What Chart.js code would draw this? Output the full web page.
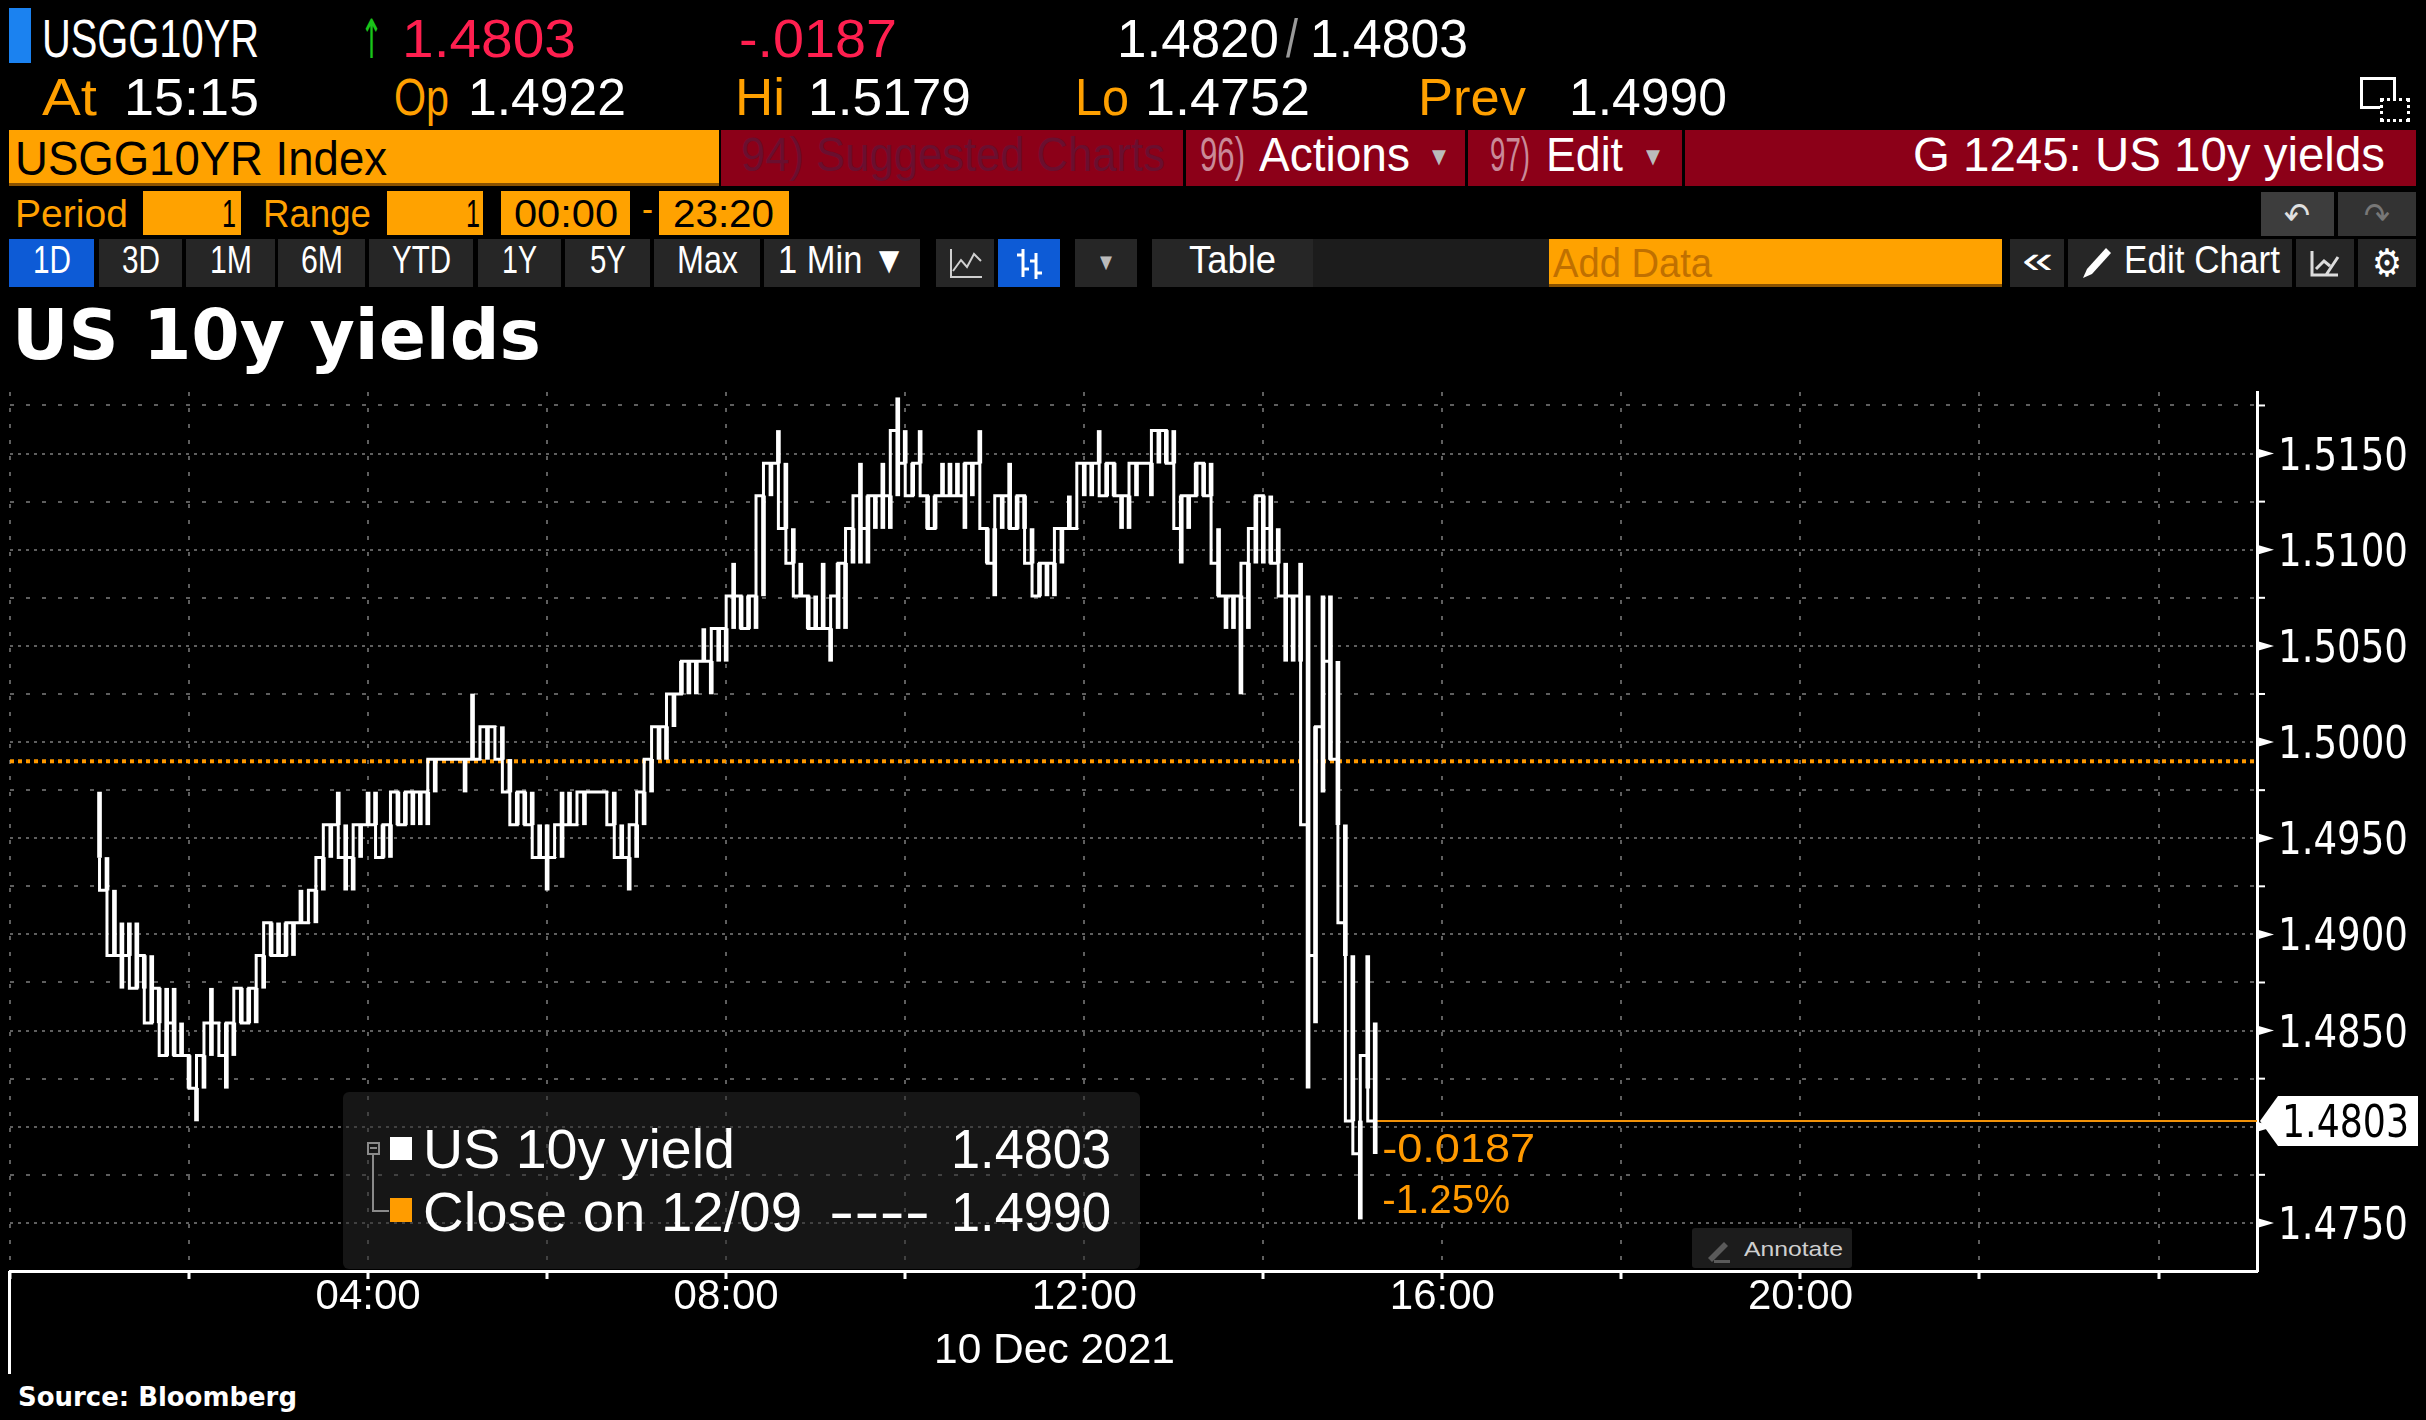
<!DOCTYPE html>
<html>
<head>
<meta charset="utf-8">
<title>US 10y yields</title>
<script src="https://cdn.jsdelivr.net/npm/chart.js@4.4.1/dist/chart.umd.min.js"></script>
<style>
  html, body { margin: 0; padding: 0; background: #000; }
  #page { position: relative; width: 2426px; height: 1420px; overflow: hidden; background: #000; }
  #chartWrap { position: absolute; left: 0; top: 380px; width: 2426px; height: 1000px; }
  .bx { position: absolute; box-sizing: border-box; }
  .t { position: absolute; white-space: nowrap; line-height: 1; transform-origin: 0 0; }
</style>
</head>
<body>
<div id="page">
  <div id="chartWrap"><canvas id="chart" width="2426" height="1000"></canvas></div>
</div>
<script>
// 5-minute buckets (yield, %)
const times = [
  '01:00','01:05','01:10','01:15','01:20','01:25','01:30','01:35','01:40','01:45','01:50','01:55',
  '02:00','02:05','02:10','02:15','02:20','02:25','02:30','02:35','02:40','02:45','02:50','02:55',
  '03:00','03:05','03:10','03:15','03:20','03:25','03:30','03:35','03:40','03:45','03:50','03:55',
  '04:00','04:05','04:10','04:15','04:20','04:25','04:30','04:35','04:40','04:45','04:50','04:55',
  '05:00','05:05','05:10','05:15','05:20','05:25','05:30','05:35','05:40','05:45','05:50','05:55',
  '06:00','06:05','06:10','06:15','06:20','06:25','06:30','06:35','06:40','06:45','06:50','06:55',
  '07:00','07:05','07:10','07:15','07:20','07:25','07:30','07:35','07:40','07:45','07:50','07:55',
  '08:00','08:05','08:10','08:15','08:20','08:25','08:30','08:35','08:40','08:45','08:50','08:55',
  '09:00','09:05','09:10','09:15','09:20','09:25','09:30','09:35','09:40','09:45','09:50','09:55',
  '10:00','10:05','10:10','10:15','10:20','10:25','10:30','10:35','10:40','10:45','10:50','10:55',
  '11:00','11:05','11:10','11:15','11:20','11:25','11:30','11:35','11:40','11:45','11:50','11:55',
  '12:00','12:05','12:10','12:15','12:20','12:25','12:30','12:35','12:40','12:45','12:50','12:55',
  '13:00','13:05','13:10','13:15','13:20','13:25','13:30','13:35','13:40','13:45','13:50','13:55',
  '14:00','14:05','14:10','14:15','14:20','14:25','14:30','14:35','14:40','14:45','14:50','14:55',
  '15:00','15:05','15:10','15:15'
];
const lows = [
  1.4940,1.4923,1.4889,1.4872,1.4889,1.4872,1.4872,1.4854,1.4854,1.4837,1.4837,1.4837,
  1.4820,1.4803,1.4820,1.4837,1.4854,1.4820,1.4837,1.4854,1.4854,1.4854,1.4872,1.4889,
  1.4889,1.4889,1.4889,1.4906,1.4906,1.4906,1.4923,1.4940,1.4957,1.4923,1.4923,1.4940,
  1.4957,1.4957,1.4940,1.4940,1.4957,1.4957,1.4957,1.4957,1.4957,1.4974,1.4991,1.4991,
  1.4991,1.4974,1.4991,1.4991,1.4991,1.5008,1.4991,1.4974,1.4957,1.4957,1.4957,1.4940,
  1.4923,1.4940,1.4940,1.4957,1.4957,1.4957,1.4974,1.4974,1.4974,1.4957,1.4940,1.4923,
  1.4940,1.4957,1.4974,1.4991,1.4991,1.5008,1.5025,1.5025,1.5025,1.5042,1.5025,1.5042,
  1.5042,1.5059,1.5059,1.5059,1.5059,1.5076,1.5128,1.5145,1.5111,1.5093,1.5076,1.5059,
  1.5059,1.5059,1.5042,1.5059,1.5059,1.5093,1.5093,1.5093,1.5111,1.5111,1.5111,1.5128,
  1.5145,1.5128,1.5145,1.5111,1.5111,1.5128,1.5128,1.5128,1.5111,1.5128,1.5145,1.5093,
  1.5076,1.5111,1.5111,1.5111,1.5111,1.5093,1.5076,1.5076,1.5076,1.5093,1.5111,1.5111,
  1.5128,1.5128,1.5145,1.5128,1.5128,1.5111,1.5111,1.5128,1.5145,1.5128,1.5145,1.5145,
  1.5145,1.5093,1.5111,1.5128,1.5128,1.5128,1.5076,1.5059,1.5059,1.5025,1.5059,1.5093,
  1.5093,1.5093,1.5093,1.5042,1.5042,1.5042,1.4820,1.4854,1.4974,1.4991,1.4957,1.4889,
  1.4803,1.4752,1.4820,1.4786
];
const highs = [
  1.4974,1.4940,1.4923,1.4906,1.4906,1.4906,1.4889,1.4889,1.4872,1.4872,1.4872,1.4854,
  1.4837,1.4820,1.4837,1.4872,1.4854,1.4854,1.4854,1.4872,1.4872,1.4872,1.4889,1.4906,
  1.4906,1.4906,1.4906,1.4923,1.4906,1.4923,1.4940,1.4957,1.4974,1.4957,1.4940,1.4957,
  1.4974,1.4974,1.4957,1.4957,1.4974,1.4974,1.4974,1.4974,1.4974,1.4991,1.4991,1.4991,
  1.4991,1.4991,1.5025,1.4991,1.5008,1.5008,1.5008,1.4991,1.4974,1.4974,1.4974,1.4957,
  1.4957,1.4940,1.4974,1.4974,1.4957,1.4974,1.4974,1.4974,1.4974,1.4974,1.4957,1.4940,
  1.4957,1.4974,1.4991,1.5008,1.5008,1.5025,1.5042,1.5042,1.5042,1.5059,1.5042,1.5059,
  1.5059,1.5093,1.5076,1.5076,1.5076,1.5128,1.5145,1.5162,1.5145,1.5111,1.5093,1.5076,
  1.5076,1.5093,1.5059,1.5093,1.5093,1.5111,1.5145,1.5128,1.5128,1.5145,1.5128,1.5179,
  1.5162,1.5145,1.5162,1.5128,1.5128,1.5145,1.5145,1.5145,1.5145,1.5145,1.5162,1.5111,
  1.5111,1.5128,1.5145,1.5128,1.5128,1.5111,1.5093,1.5093,1.5093,1.5111,1.5128,1.5111,
  1.5145,1.5145,1.5162,1.5145,1.5145,1.5128,1.5128,1.5145,1.5145,1.5145,1.5162,1.5162,
  1.5162,1.5128,1.5128,1.5145,1.5145,1.5145,1.5111,1.5076,1.5076,1.5076,1.5093,1.5128,
  1.5128,1.5128,1.5111,1.5093,1.5076,1.5093,1.5076,1.5008,1.5076,1.5076,1.5042,1.4957,
  1.4889,1.4803,1.4889,1.4854
];
const closes = [
  1.4940,1.4923,1.4889,1.4889,1.4889,1.4872,1.4889,1.4854,1.4872,1.4837,1.4854,1.4837,
  1.4837,1.4820,1.4837,1.4854,1.4854,1.4837,1.4854,1.4872,1.4854,1.4872,1.4889,1.4906,
  1.4889,1.4889,1.4906,1.4906,1.4906,1.4923,1.4940,1.4957,1.4957,1.4940,1.4940,1.4957,
  1.4957,1.4957,1.4940,1.4957,1.4974,1.4957,1.4974,1.4974,1.4974,1.4991,1.4991,1.4991,
  1.4991,1.4991,1.4991,1.4991,1.5008,1.5008,1.4991,1.4974,1.4957,1.4974,1.4957,1.4940,
  1.4940,1.4940,1.4957,1.4957,1.4957,1.4974,1.4974,1.4974,1.4974,1.4957,1.4940,1.4940,
  1.4957,1.4974,1.4991,1.5008,1.5008,1.5025,1.5025,1.5042,1.5042,1.5042,1.5042,1.5059,
  1.5059,1.5076,1.5076,1.5059,1.5076,1.5128,1.5145,1.5145,1.5111,1.5093,1.5076,1.5076,
  1.5059,1.5059,1.5059,1.5076,1.5093,1.5111,1.5128,1.5111,1.5128,1.5128,1.5128,1.5162,
  1.5145,1.5128,1.5145,1.5128,1.5111,1.5128,1.5128,1.5128,1.5128,1.5145,1.5145,1.5111,
  1.5093,1.5128,1.5128,1.5111,1.5128,1.5093,1.5076,1.5093,1.5093,1.5111,1.5111,1.5111,
  1.5145,1.5145,1.5145,1.5128,1.5145,1.5128,1.5128,1.5145,1.5145,1.5145,1.5162,1.5162,
  1.5145,1.5111,1.5128,1.5128,1.5145,1.5128,1.5093,1.5076,1.5076,1.5076,1.5093,1.5111,
  1.5128,1.5111,1.5093,1.5076,1.5076,1.5076,1.4957,1.4889,1.5008,1.5042,1.4991,1.4906,
  1.4803,1.4786,1.4837,1.4803
];
const prevClose = 1.4990;
const seriesLabel = 'US 10y yield';
const prevLabel = 'Close on 12/09';

const yTickValues = [1.4750,1.4775,1.4800,1.4825,1.4850,1.4875,1.4900,1.4925,1.4950,1.4975,
                     1.5000,1.5025,1.5050,1.5075,1.5100,1.5125,1.5150,1.5175];
const yLabelValues = [1.4750,1.4800,1.4850,1.4900,1.4950,1.5000,1.5050,1.5100,1.5150];
const xTickHours = [0,2,4,6,8,10,12,14,16,18,20,22,24];
const xLabelHours = [4,8,12,16,20];
const xLabelText = ['04:00','08:00','12:00','16:00','20:00'];

const X_MAX = 25.1, Y_MIN = 1.4725, Y_MAX = 1.5182;
const NARROW = '"Liberation Sans", Arial, sans-serif';
const WIDE = '"DejaVu Sans", Verdana, sans-serif';

const toHours = t => { const [h, m] = t.split(':').map(Number); return h + m / 60; };
const hours = times.map(toHours);
const lastPrice = closes[closes.length - 1];
const lastHour = hours[hours.length - 1];
const isMajor = v => yLabelValues.some(l => Math.abs(l - v) < 1e-6);

// ---- page furniture (terminal header, legend, notes) ----
const page = document.getElementById('page');

function box(x, y, w, h, bg, css) {
  const d = document.createElement('div');
  d.className = 'bx';
  d.style.cssText = `left:${x}px;top:${y}px;width:${w}px;height:${h}px;background:${bg};` + (css || '');
  page.appendChild(d);
  return d;
}

// text placed by baseline, squeezed to the width it has in the picture
function txt(x, base, w, size, color, s, o = {}) {
  const d = document.createElement('div');
  d.className = 't';
  d.textContent = s;
  d.style.fontSize = size + 'px';
  d.style.color = color;
  d.style.fontFamily = o.font || NARROW;
  if (o.bold) d.style.fontWeight = 'bold';
  d.style.top = (base - 0.846 * size) + 'px';
  d.style.left = x + 'px';
  d.dataset.w = w; d.dataset.x = x; d.dataset.a = o.align || 'l';
  page.appendChild(d);
  return d;
}

function fitText() {
  document.querySelectorAll('.t').forEach(el => {
    el.style.transform = 'none';
    const nat = el.getBoundingClientRect().width;
    const w = +el.dataset.w, x = +el.dataset.x, a = el.dataset.a;
    el.style.left = (a === 'r' ? x - w : a === 'c' ? x - w / 2 : x) + 'px';
    if (nat > 0) el.style.transform = `scaleX(${(w / nat).toFixed(4)})`;
  });
}

const ORANGE = '#ffa000', BOX = '#ffa200', RED = '#8c0018';

// row 1
box(9, 8, 22, 55, '#1b82f0');
txt(42, 57, 217, 54, '#fff', 'USGG10YR');
txt(360, 59, 23, 54, '#19c419', '↑', {font: WIDE});
txt(402, 57, 174, 54, '#ff1f4f', '1.4803');
txt(739, 57, 158, 54, '#ff1f4f', '-.0187');
txt(1117, 57, 162, 54, '#fff', '1.4820');
txt(1286, 57, 12, 54, '#9a9a9a', '/');
txt(1310, 57, 158, 54, '#fff', '1.4803');
// row 2
txt(42, 115, 55, 52, ORANGE, 'At');
txt(124, 115, 135, 52, '#fff', '15:15');
txt(394, 115, 55, 52, ORANGE, 'Op');
txt(468, 115, 158, 52, '#fff', '1.4922');
txt(735, 115, 50, 52, ORANGE, 'Hi');
txt(808, 115, 163, 52, '#fff', '1.5179');
txt(1075, 115, 54, 52, ORANGE, 'Lo');
txt(1145, 115, 165, 52, '#fff', '1.4752');
txt(1418, 115, 108, 52, ORANGE, 'Prev');
txt(1569, 115, 158, 52, '#fff', '1.4990');
box(2360, 77, 36, 32, 'transparent', 'border:3px solid #fff;');
box(2380, 98, 30, 24, '#000', 'border:3px dotted #fff;');
// row 3
box(9, 130, 710, 56, BOX, 'border-bottom:3px solid #8a5200;');
txt(15, 175, 372, 49, '#000', 'USGG10YR Index');
box(721, 130, 462, 56, RED);
txt(741, 172, 424, 48, '#6a0f2f', '94) Suggested Charts');
box(1186, 130, 279, 56, RED);
txt(1200, 172, 45, 48, '#c98a98', '96)');
txt(1259, 172, 151, 48, '#fff', 'Actions');
txt(1432, 163, 14, 20, '#bbb', '▼', {font: WIDE});
box(1468, 130, 214, 56, RED);
txt(1490, 172, 40, 48, '#c98a98', '97)');
txt(1546, 172, 77, 48, '#fff', 'Edit');
txt(1646, 163, 14, 20, '#bbb', '▼', {font: WIDE});
box(1685, 130, 731, 56, RED);
txt(2385, 172, 472, 48, '#fff', 'G 1245: US 10y yields', {align: 'r'});
// row 4
txt(15, 227, 113, 38, ORANGE, 'Period');
box(143, 191, 98, 44, BOX);
txt(236, 227, 14, 38, '#000', '1', {align: 'r'});
txt(263, 227, 108, 38, ORANGE, 'Range');
box(387, 191, 96, 44, BOX);
txt(480, 227, 14, 38, '#000', '1', {align: 'r'});
box(501, 191, 129, 44, BOX);
txt(514, 227, 104, 38, '#000', '00:00');
txt(642, 222, 11, 38, ORANGE, '-');
box(659, 191, 130, 44, BOX);
txt(673, 227, 101, 38, '#000', '23:20');
box(2261, 192, 73, 44, '#3d3d3d');
txt(2297, 228, 26, 36, '#e0e0e0', '↶', {font: WIDE, align: 'c'});
box(2338, 192, 78, 44, '#333');
txt(2377, 228, 26, 36, '#777', '↷', {font: WIDE, align: 'c'});
// row 5: toolbar
function btn(x0, x1, label, w, bg) {
  box(x0, 239, x1 - x0, 48, bg || '#262626');
  if (label) txt((x0 + x1) / 2, 273, w, 38, '#fff', label, {align: 'c'});
}
btn(9, 94, '1D', 38, '#0d5bd6');
btn(99, 182, '3D', 38);
btn(186, 275, '1M', 42);
btn(278, 365, '6M', 42);
btn(369, 473, 'YTD', 59);
btn(478, 561, '1Y', 35);
btn(565, 650, '5Y', 36);
btn(654, 760, 'Max', 61);
btn(764, 920, '1 Min ▼', 128);
btn(936, 994, '', 0);
box(936, 239, 58, 48, 'transparent').innerHTML =
  '<svg width="58" height="48"><path d="M15 10 V38 H46" stroke="#cfcfcf" stroke-width="2" fill="none"/>' +
  '<polyline points="17,32 25,21 31,28 38,15 45,22" stroke="#cfcfcf" stroke-width="2" fill="none"/></svg>';
btn(998, 1060, '', 0, '#0d5bd6');
box(998, 239, 62, 48, 'transparent').innerHTML =
  '<svg width="62" height="48"><path d="M25 10 V38 M19 16 H25 M25 30 H31 M38 14 V40 M32 22 H38 M38 34 H44" stroke="#fff" stroke-width="3" fill="none"/></svg>';
btn(1075, 1137, '', 0);
txt(1106, 268, 12, 18, '#bbb', '▼', {font: WIDE, align: 'c'});
btn(1152, 1313, 'Table', 87);
box(1313, 239, 236, 48, '#1c1c1c');
box(1549, 239, 453, 48, BOX, 'border-bottom:3px solid #8a5200;');
txt(1553, 277, 159, 40, '#c07000', 'Add Data');
btn(2010, 2064, '«', 31);
btn(2068, 2292, '', 0);
box(2076, 242, 40, 42, 'transparent').innerHTML =
  '<svg width="40" height="42"><path d="M7 36 L11 27 L30 6 L35 11 L16 32 Z" fill="#fff"/></svg>';
txt(2124, 273, 156, 38, '#fff', 'Edit Chart');
btn(2296, 2354, '', 0);
box(2296, 239, 58, 48, 'transparent').innerHTML =
  '<svg width="58" height="48"><path d="M16 12 V36 H42 M20 30 L28 22 L34 27 M30 36 L42 18" stroke="#ddd" stroke-width="3" fill="none"/></svg>';
btn(2358, 2416, '', 0);
txt(2387, 276, 30, 38, '#fff', '⚙', {font: WIDE, align: 'c'});

// title
txt(12, 359, 529, 69, '#fff', 'US 10y yields', {font: WIDE, bold: true});

// legend
box(343, 1092, 797, 177, 'rgba(40,40,40,0.55)', 'border-radius:6px;');
box(367, 1142, 13, 13, 'transparent', 'border:2px solid #8a8a8a;');
box(370, 1147, 7, 2, '#8a8a8a');
box(372, 1155, 2, 57, '#8a8a8a');
box(372, 1210, 17, 2, '#8a8a8a');
box(390, 1137, 22, 23, '#fff');
box(390, 1198, 22, 24, '#ff9c00');
txt(423, 1168, 312, 56, '#fff', seriesLabel);
txt(1111, 1168, 160, 56, '#fff', lastPrice.toFixed(4), {align: 'r'});
txt(423, 1231, 379, 56, '#fff', prevLabel);
txt(829, 1231, 101, 56, '#fff', '----');
txt(1111, 1231, 160, 56, '#fff', prevClose.toFixed(4), {align: 'r'});

// annotate button, date line, source
box(1692, 1228, 160, 40, '#1c1c1c', 'border-radius:3px;');
box(1700, 1230, 40, 36, 'transparent').innerHTML =
  '<svg width="40" height="36"><path d="M8 28 L24 12 L28 16 L12 32 Z" fill="#5a5a5a"/><rect x="14" y="30" width="16" height="3" fill="#5a5a5a"/></svg>';
txt(1744, 1256, 99, 21, '#cfcfcf', 'Annotate');
box(8, 1271, 3, 103, '#fff');
txt(1054, 1363, 241, 43, '#fff', '10 Dec 2021', {align: 'c'});
txt(18, 1406, 279, 27, '#fff', 'Source: Bloomberg', {font: WIDE, bold: true});

fitText();

// ---- chart ----
function scaledText(ctx, s, x, base, w, font, color) {
  ctx.save();
  ctx.font = font;
  ctx.fillStyle = color;
  ctx.textBaseline = 'alphabetic';
  const nat = ctx.measureText(s).width;
  ctx.translate(x, base);
  ctx.scale(w / nat, 1);
  ctx.fillText(s, 0, 0);
  ctx.restore();
}

const axisExtras = {
  id: 'axisExtras',
  afterDraw(chart) {
    const {ctx, scales: {x, y}} = chart;
    const ax = y.left;
    ctx.save();
    ctx.fillStyle = '#fff';
    yTickValues.forEach(v => {
      const py = y.getPixelForValue(v);
      if (isMajor(v)) {
        ctx.beginPath();
        ctx.moveTo(ax, py - 5);
        ctx.lineTo(ax + 17, py);
        ctx.lineTo(ax, py + 5);
        ctx.closePath();
        ctx.fill();
        scaledText(ctx, v.toFixed(4), ax + 21, py + 16, 130, '44px ' + WIDE, '#fff');
      } else {
        ctx.fillRect(ax, py - 1, 8, 2);
      }
    });
    // last value tag
    const py = y.getPixelForValue(lastPrice);
    ctx.fillStyle = '#fff';
    ctx.beginPath();
    ctx.moveTo(ax + 3, py);
    ctx.lineTo(ax + 21, py - 25);
    ctx.lineTo(2418, py - 25);
    ctx.lineTo(2418, py + 25);
    ctx.lineTo(ax + 21, py + 25);
    ctx.closePath();
    ctx.fill();
    scaledText(ctx, lastPrice.toFixed(4), ax + 25, py + 16, 127, '44px ' + WIDE, '#000');
    // change vs previous close
    const chg = lastPrice - prevClose;
    const px = x.getPixelForValue(lastHour) + 7;
    scaledText(ctx, chg.toFixed(4), px, py + 41, 153, '40px ' + NARROW, '#ff9900');
    scaledText(ctx, (chg / prevClose * 100).toFixed(2) + '%', px, py + 92, 128, '40px ' + NARROW, '#ff9900');
    ctx.restore();
  }
};

const chart = new Chart(document.getElementById('chart'), {
  type: 'line',
  data: {
    datasets: [
      {
        label: 'range',
        type: 'bar',
        data: hours.map((h, i) => ({x: h, y: [lows[i], highs[i]]})),
        backgroundColor: '#fff',
        barThickness: 4,
        order: 2
      },
      {
        label: seriesLabel,
        data: hours.map((h, i) => ({x: h, y: closes[i]})),
        borderColor: '#fff',
        borderWidth: 3,
        pointRadius: 0,
        stepped: 'after',
        order: 1
      },
      {
        label: prevLabel,
        data: [{x: 0, y: prevClose}, {x: X_MAX, y: prevClose}],
        borderColor: '#ff9900',
        borderWidth: 4,
        borderDash: [4, 4],
        pointRadius: 0,
        order: 3
      },
      {
        label: 'last',
        data: [{x: lastHour, y: lastPrice}, {x: X_MAX, y: lastPrice}],
        borderColor: '#f39208',
        borderWidth: 2,
        pointRadius: 0,
        order: 3
      }
    ]
  },
  options: {
    responsive: false,
    animation: false,
    devicePixelRatio: 1,
    layout: {padding: {top: 12, left: 10, right: 0, bottom: 0}},
    plugins: {legend: {display: false}, tooltip: {enabled: false}},
    scales: {
      x: {
        type: 'linear', min: 0, max: X_MAX, offset: false,
        afterBuildTicks: s => { s.ticks = xTickHours.map(v => ({value: v})); },
        afterFit: s => { s.height = 109; },
        grid: {offset: false, color: '#5f5f5f', lineWidth: 2, tickLength: 8, tickColor: '#fff', tickWidth: 3},
        border: {color: '#fff', width: 3, dash: [4, 12]},
        ticks: {
          color: '#fff', padding: 0, maxRotation: 0, autoSkip: false,
          font: {family: NARROW, size: 42, lineHeight: 0.9},
          callback: v => { const i = xLabelHours.indexOf(v); return i >= 0 ? xLabelText[i] : ''; }
        }
      },
      y: {
        position: 'right', min: Y_MIN, max: Y_MAX,
        afterBuildTicks: s => { s.ticks = yTickValues.map(v => ({value: v})); },
        afterFit: s => { s.width = 169; },
        grid: {offset: false, color: '#5f5f5f', lineWidth: 2, drawTicks: false},
        border: {color: '#fff', width: 3, dash: c => (c.tick && isMajor(c.tick.value)) ? [3, 5] : [4, 12]},
        ticks: {display: false}
      }
    }
  },
  plugins: [axisExtras]
});

if (document.fonts && document.fonts.ready) {
  document.fonts.ready.then(() => { fitText(); chart.update('none'); });
}
</script>
</body>
</html>
